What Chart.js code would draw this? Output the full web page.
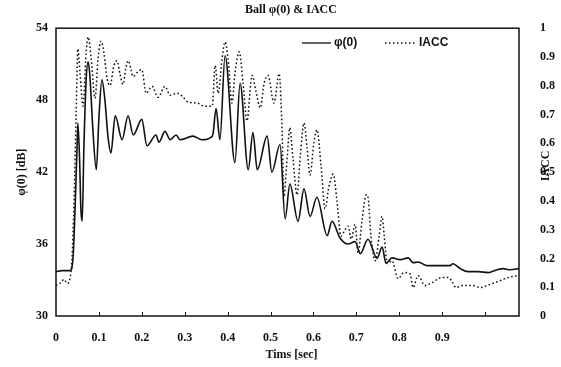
<!DOCTYPE html>
<html>
<head>
<meta charset="utf-8">
<script src="https://cdn.jsdelivr.net/npm/chart.js@4.4.0/dist/chart.umd.min.js"></script>
<style>
html,body{margin:0;padding:0;background:#fff;}
#wrap{width:561px;height:367px;}
</style>
</head>
<body>
<div id="wrap"><canvas id="c" width="561" height="367"></canvas></div>
<script>
// ---- data ----
const chartTitle = "Ball \u03c6(0) & IACC";
const xTitle = "Tims [sec]";
const yLeftTitle = "\u03c6(0) [dB]";
const yRightTitle = "IACC";
const seriesNames = ["\u03c6(0)", "IACC"];

const phiTime = [0.000,0.014,0.023,0.033,0.040,0.044,0.049,0.051,0.055,0.058,0.061,0.065,0.070,0.075,0.079,0.086,0.094,0.100,0.107,0.114,0.121,0.128,0.138,0.154,0.168,0.180,0.200,0.212,0.233,0.240,0.254,0.266,0.280,0.289,0.319,0.340,0.361,0.366,0.373,0.382,0.394,0.417,0.429,0.448,0.459,0.469,0.492,0.503,0.522,0.534,0.545,0.564,0.578,0.592,0.608,0.632,0.643,0.662,0.680,0.697,0.709,0.727,0.748,0.760,0.769,0.783,0.802,0.821,0.832,0.844,0.865,0.918,0.925,0.942,0.960,0.984,1.007,1.028,1.042,1.058,1.079];
const phiDb = [33.70,33.78,33.78,33.78,35.0,38.5,44.0,46.1,43.0,38.9,37.9,44.0,49.5,51.2,50.0,45.5,42.2,46.5,49.7,48.0,45.0,43.6,46.7,44.7,46.7,45.1,46.4,44.2,45.1,44.5,45.4,44.7,45.1,44.7,45.0,44.7,44.9,45.2,47.3,44.7,51.7,42.8,49.4,42.2,45.3,42.2,45.0,42.0,44.3,38.1,41.0,37.9,40.6,38.3,39.9,36.7,37.9,36.5,36.0,36.2,35.2,36.4,34.8,35.75,34.4,34.85,34.7,34.85,34.45,34.5,34.2,34.2,34.36,33.95,33.7,33.7,33.62,33.86,33.95,33.86,33.95];

const iaccTime = [0.000,0.009,0.019,0.026,0.033,0.037,0.042,0.047,0.051,0.056,0.063,0.070,0.075,0.082,0.091,0.098,0.105,0.112,0.119,0.126,0.135,0.142,0.149,0.156,0.163,0.168,0.175,0.179,0.191,0.200,0.210,0.224,0.238,0.254,0.266,0.282,0.294,0.308,0.329,0.347,0.364,0.371,0.378,0.387,0.394,0.401,0.410,0.417,0.427,0.436,0.445,0.457,0.466,0.476,0.485,0.494,0.508,0.520,0.527,0.531,0.538,0.545,0.552,0.562,0.569,0.578,0.585,0.592,0.601,0.608,0.618,0.627,0.636,0.646,0.655,0.664,0.674,0.681,0.688,0.697,0.704,0.713,0.723,0.727,0.734,0.744,0.753,0.760,0.765,0.772,0.783,0.797,0.811,0.825,0.832,0.844,0.860,0.876,0.900,0.914,0.923,0.932,0.949,0.970,0.988,1.012,1.030,1.047,1.063,1.079];
const iaccValue = [0.106,0.113,0.127,0.113,0.134,0.19,0.397,0.705,0.928,0.842,0.729,0.911,0.969,0.894,0.757,0.894,0.955,0.911,0.825,0.801,0.870,0.887,0.842,0.805,0.863,0.887,0.856,0.832,0.849,0.856,0.774,0.798,0.760,0.798,0.767,0.774,0.764,0.743,0.740,0.729,0.729,0.870,0.774,0.894,0.952,0.894,0.740,0.842,0.918,0.808,0.678,0.836,0.781,0.723,0.808,0.836,0.740,0.842,0.637,0.414,0.534,0.654,0.551,0.421,0.551,0.671,0.586,0.490,0.603,0.647,0.517,0.373,0.449,0.493,0.397,0.277,0.301,0.312,0.267,0.318,0.219,0.329,0.421,0.414,0.277,0.192,0.277,0.346,0.277,0.182,0.192,0.130,0.151,0.147,0.099,0.140,0.106,0.116,0.134,0.134,0.120,0.099,0.106,0.106,0.099,0.110,0.120,0.130,0.137,0.140];

const xMin = 0, xMax = 1.079, xStep = 0.1, xLastLabel = 0.9;
const yLeftMin = 30, yLeftMax = 54, yLeftStep = 6;
const yRightMin = 0, yRightMax = 1, yRightStep = 0.1;

// ---- styles ----
const SERIF = "'Liberation Serif', 'Times New Roman', serif";
const SANS = "'Liberation Sans', Arial, sans-serif";
const INK = '#111';

const decorPlugin = {
  id: 'decor',
  afterDatasetsDraw(chart) {
    const {ctx, chartArea: a, scales} = chart;
    ctx.save();
    // frame
    ctx.strokeStyle = INK;
    ctx.lineWidth = 1.5;
    ctx.strokeRect(a.left, a.top, a.right - a.left, a.bottom - a.top);
    // inward tick marks on the x axis
    ctx.lineWidth = 1;
    scales.x.ticks.forEach(t => {
      if (t.value <= 0 || t.value > xMax - 0.01) return;
      const px = Math.round(scales.x.getPixelForValue(t.value)) + 0.5;
      ctx.beginPath(); ctx.moveTo(px, a.bottom); ctx.lineTo(px, a.bottom - 4); ctx.stroke();
    });
    ctx.fillStyle = INK;
    // chart title
    ctx.font = "bold 12px " + SERIF;
    ctx.textAlign = 'center'; ctx.textBaseline = 'middle';
    ctx.fillText(chartTitle, 291, 10);
    // x title
    ctx.fillText(xTitle, (a.left + a.right) / 2 + 4, 355);
    // left y title
    ctx.save(); ctx.translate(22, (a.top + a.bottom) / 2); ctx.rotate(-Math.PI / 2);
    ctx.fillText(yLeftTitle, 0, 0); ctx.restore();
    // right y title
    ctx.save(); ctx.translate(546, 166); ctx.rotate(-Math.PI / 2);
    ctx.fillText(yRightTitle, 0, 0); ctx.restore();
    // legend
    const ly = 43;
    ctx.lineWidth = 1.3;
    ctx.beginPath(); ctx.setLineDash([]); ctx.moveTo(302, ly); ctx.lineTo(331, ly); ctx.stroke();
    ctx.beginPath(); ctx.setLineDash([1.5, 2.5]); ctx.moveTo(385, ly); ctx.lineTo(415, ly); ctx.stroke();
    ctx.setLineDash([]);
    ctx.font = "bold 12px " + SANS;
    ctx.textAlign = 'left';
    ctx.fillText(seriesNames[0], 334, ly);
    ctx.fillText(seriesNames[1], 419, ly);
    ctx.restore();
  }
};

const toPts = (xs, ys) => xs.map((x, i) => ({x: x, y: ys[i]}));

new Chart(document.getElementById('c'), {
  type: 'line',
  data: {
    datasets: [
      {
        label: seriesNames[0],
        data: toPts(phiTime, phiDb),
        yAxisID: 'yL',
        borderColor: INK, borderWidth: 1.6,
        pointRadius: 0, cubicInterpolationMode: 'monotone', fill: false
      },
      {
        label: seriesNames[1],
        data: toPts(iaccTime, iaccValue),
        yAxisID: 'yR',
        borderColor: INK, borderWidth: 1.5, borderDash: [1.6, 2.4],
        pointRadius: 0, cubicInterpolationMode: 'monotone', fill: false
      }
    ]
  },
  options: {
    responsive: false,
    animation: false,
    layout: {padding: {top: 24, left: 0, right: 0, bottom: 0}},
    plugins: {legend: {display: false}, title: {display: false}, tooltip: {enabled: false}},
    scales: {
      x: {
        type: 'linear', position: 'bottom', min: xMin, max: xMax,
        grid: {display: false, drawTicks: false},
        border: {display: false},
        afterFit(s) { s.height = 51; },
        ticks: {
          stepSize: xStep, includeBounds: false, autoSkip: false, maxRotation: 0, padding: 15,
          color: INK, font: {family: SERIF, size: 12, weight: 'bold'},
          callback: v => v > xLastLabel + 0.05 ? '' : String(Math.round(v * 10) / 10)
        }
      },
      yL: {
        type: 'linear', position: 'left', min: yLeftMin, max: yLeftMax,
        grid: {display: false, drawTicks: false},
        border: {display: false},
        afterFit(s) { s.width = 56; },
        ticks: {
          stepSize: yLeftStep, padding: 8, color: INK,
          font: {family: SERIF, size: 12, weight: 'bold'},
          callback: v => String(v)
        }
      },
      yR: {
        type: 'linear', position: 'right', min: yRightMin, max: yRightMax,
        grid: {display: false, drawTicks: false},
        border: {display: false},
        afterFit(s) { s.width = 42; },
        ticks: {
          stepSize: yRightStep, padding: 21, color: INK,
          font: {family: SERIF, size: 12, weight: 'bold'},
          callback: v => String(Math.round(v * 10) / 10)
        }
      }
    }
  },
  plugins: [decorPlugin]
});
</script>
</body>
</html>
